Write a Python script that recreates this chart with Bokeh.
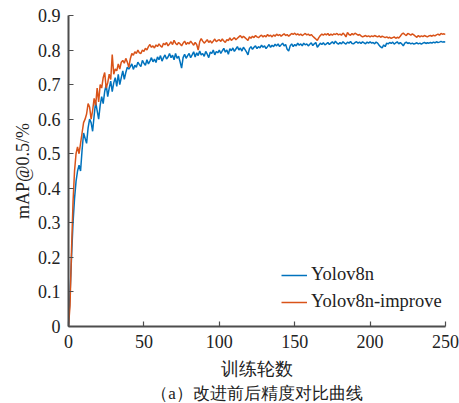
from bokeh.plotting import figure
from bokeh.models import Range1d, FixedTicker, Legend, LegendItem, Title
from bokeh.embed import file_html
from bokeh.resources import INLINE

epochs = list(range(0, 251))

yolov8n = [
    0.0, 0.09, 0.20, 0.30, 0.37, 0.42, 0.45, 0.467, 0.45, 0.51,
    0.56, 0.545, 0.53, 0.575, 0.60, 0.59, 0.565, 0.61, 0.65, 0.625,
    0.60, 0.64, 0.665, 0.645, 0.68, 0.70, 0.665, 0.69, 0.71, 0.68,
    0.705, 0.72, 0.695, 0.73, 0.70, 0.72, 0.74, 0.715, 0.735, 0.75,
    0.745, 0.752, 0.76, 0.744, 0.756, 0.75, 0.765, 0.758, 0.752, 0.77,
    0.762, 0.756, 0.772, 0.76, 0.768, 0.778, 0.766, 0.774, 0.764, 0.78,
    0.772, 0.784, 0.768, 0.778, 0.786, 0.774, 0.78, 0.79, 0.778, 0.785,
    0.772, 0.79, 0.776, 0.782, 0.766, 0.748, 0.778, 0.788, 0.776, 0.784,
    0.79, 0.778, 0.786, 0.795, 0.78, 0.792, 0.784, 0.797, 0.786, 0.79,
    0.782, 0.796, 0.788, 0.778, 0.794, 0.79, 0.8, 0.786, 0.796, 0.792,
    0.8, 0.79, 0.798, 0.805, 0.794, 0.8, 0.788, 0.804, 0.798, 0.806,
    0.796, 0.803, 0.81, 0.8, 0.806, 0.797, 0.808, 0.802, 0.795, 0.786,
    0.804, 0.81, 0.802, 0.808, 0.812, 0.804, 0.81, 0.806, 0.814, 0.808,
    0.812, 0.804, 0.81, 0.816, 0.808, 0.814, 0.81, 0.817, 0.812, 0.818,
    0.81, 0.815, 0.82, 0.812, 0.816, 0.802, 0.797, 0.812, 0.818, 0.81,
    0.816, 0.812, 0.82, 0.814, 0.818, 0.812, 0.82, 0.815, 0.818, 0.812,
    0.817, 0.821, 0.813, 0.818, 0.822, 0.808, 0.814, 0.82, 0.816, 0.821,
    0.815, 0.818, 0.822, 0.816, 0.82, 0.824, 0.818, 0.826, 0.82, 0.817,
    0.822, 0.818, 0.824, 0.82, 0.817, 0.823, 0.82, 0.825, 0.819, 0.818,
    0.822, 0.824, 0.82, 0.823, 0.819, 0.824, 0.821, 0.818, 0.823, 0.82,
    0.824, 0.82, 0.822, 0.818, 0.823, 0.82, 0.814, 0.809, 0.806, 0.815,
    0.81, 0.82, 0.818, 0.822, 0.819, 0.823, 0.817, 0.821, 0.824, 0.818,
    0.822, 0.818, 0.812, 0.82, 0.823, 0.819, 0.821, 0.818, 0.82, 0.817,
    0.819, 0.821, 0.818, 0.82, 0.817, 0.82, 0.822, 0.819, 0.821, 0.82,
    0.822, 0.82, 0.823, 0.821, 0.824, 0.822, 0.823, 0.825, 0.823, 0.824,
    0.823,
]

yolov8n_improve = [
    0.0, 0.06, 0.22, 0.36, 0.45, 0.50, 0.52, 0.50, 0.53, 0.56,
    0.59, 0.60, 0.615, 0.645, 0.635, 0.60, 0.625, 0.66, 0.64, 0.69,
    0.65, 0.70, 0.69, 0.72, 0.735, 0.69, 0.705, 0.73, 0.715, 0.787,
    0.73, 0.745, 0.74, 0.76, 0.745, 0.765, 0.77, 0.762, 0.776, 0.765,
    0.75, 0.775, 0.79, 0.785, 0.795, 0.79, 0.80, 0.792, 0.79, 0.80,
    0.796, 0.805, 0.80, 0.81, 0.816, 0.808, 0.812, 0.806, 0.815, 0.81,
    0.818, 0.812, 0.808, 0.82, 0.815, 0.822, 0.812, 0.818, 0.824, 0.816,
    0.828, 0.82, 0.815, 0.822, 0.818, 0.812, 0.82, 0.826, 0.816, 0.822,
    0.818, 0.826, 0.82, 0.814, 0.822, 0.816, 0.80, 0.824, 0.833, 0.826,
    0.82, 0.825, 0.83, 0.822, 0.827, 0.82, 0.826, 0.832, 0.824, 0.828,
    0.83, 0.825, 0.832, 0.826, 0.822, 0.83, 0.827, 0.835, 0.828, 0.832,
    0.836, 0.83, 0.834, 0.838, 0.842, 0.835, 0.84, 0.836, 0.832, 0.828,
    0.838, 0.834, 0.84, 0.836, 0.842, 0.838, 0.836, 0.84, 0.843, 0.838,
    0.842, 0.838, 0.845, 0.84, 0.843, 0.838, 0.844, 0.84, 0.846, 0.842,
    0.845, 0.84, 0.844, 0.847, 0.842, 0.845, 0.84, 0.844, 0.848, 0.845,
    0.849, 0.844, 0.847, 0.843, 0.846, 0.842, 0.845, 0.848, 0.844, 0.846,
    0.842, 0.845, 0.84, 0.836, 0.832, 0.828, 0.836, 0.842, 0.846, 0.843,
    0.847, 0.844, 0.848, 0.842, 0.846, 0.843, 0.847, 0.845, 0.848, 0.844,
    0.846, 0.843, 0.849, 0.845, 0.838, 0.851, 0.845, 0.843, 0.848, 0.844,
    0.849, 0.846, 0.843, 0.845, 0.841, 0.838, 0.84, 0.842, 0.839, 0.841,
    0.838, 0.841, 0.839, 0.842, 0.84, 0.838, 0.841, 0.837, 0.84, 0.838,
    0.836, 0.838, 0.835, 0.837, 0.834, 0.836, 0.838, 0.834, 0.837, 0.835,
    0.84, 0.846, 0.849, 0.845, 0.842, 0.848, 0.846, 0.843, 0.847, 0.844,
    0.84, 0.837, 0.842, 0.838, 0.841, 0.839, 0.842, 0.84, 0.838, 0.841,
    0.842, 0.84, 0.843, 0.841, 0.844, 0.846, 0.843, 0.848, 0.846, 0.847,
    0.845,
]

x_ticks = [0, 50, 100, 150, 200, 250]
y_ticks = [0, 0.1, 0.2, 0.3, 0.4, 0.5, 0.6, 0.7, 0.8, 0.9]
y_tick_labels = {0: "0", 0.1: "0.1", 0.2: "0.2", 0.3: "0.3", 0.4: "0.4",
                 0.5: "0.5", 0.6: "0.6", 0.7: "0.7", 0.8: "0.8", 0.9: "0.9"}
series_names = ["Yolov8n", "Yolov8n-improve"]
x_label = "训练轮数"
y_label = "mAP@0.5/%"
caption = "（a）改进前后精度对比曲线"

SERIF = "Liberation Serif"
AXIS_COLOR = "#4d4d4d"
TEXT_COLOR = "#222222"

p = figure(width=459, height=403, output_backend="svg", toolbar_location=None,
           x_range=Range1d(0, 250), y_range=Range1d(0, 0.9),
           min_border_left=68, min_border_right=14, min_border_top=15,
           min_border_bottom=76)
p.background_fill_color = "white"
p.border_fill_color = "white"
p.outline_line_color = None
p.grid.visible = False

r1 = p.line(epochs, yolov8n, line_color="#0072BD", line_width=1.5)
r2 = p.line(epochs, yolov8n_improve, line_color="#D95319", line_width=1.5)

for ax in (p.xaxis[0], p.yaxis[0]):
    ax.axis_line_color = AXIS_COLOR
    ax.axis_line_width = 2
    ax.major_tick_line_color = AXIS_COLOR
    ax.major_tick_line_width = 1.2
    ax.major_tick_in = 5
    ax.major_tick_out = 0
    ax.minor_tick_line_color = None
    ax.major_label_text_font = SERIF
    ax.major_label_text_font_size = "18px"
    ax.major_label_text_color = TEXT_COLOR
    ax.axis_label_text_font = SERIF
    ax.axis_label_text_font_style = "normal"
    ax.axis_label_text_color = TEXT_COLOR
    ax.axis_label_text_font_size = "18px"

p.xaxis[0].ticker = FixedTicker(ticks=x_ticks)
p.yaxis[0].ticker = FixedTicker(ticks=y_ticks)
p.yaxis[0].major_label_overrides = y_tick_labels
p.xaxis[0].axis_label = x_label
p.xaxis[0].major_label_standoff = 8
p.xaxis[0].axis_label_standoff = 8
p.yaxis[0].axis_label = y_label
p.yaxis[0].axis_label_standoff = 2
p.yaxis[0].major_label_standoff = 8

legend = Legend(items=[LegendItem(label=series_names[0], renderers=[r1]),
                       LegendItem(label=series_names[1], renderers=[r2])],
                location=(213, 14))
legend.border_line_color = None
legend.background_fill_alpha = 0
legend.label_text_font = SERIF
legend.label_text_font_size = "18.5px"
legend.label_text_color = TEXT_COLOR
legend.glyph_width = 26
legend.glyph_height = 20
legend.label_height = 20
legend.spacing = 6
legend.padding = 2
legend.margin = 0
legend.label_standoff = 4
p.add_layout(legend)

cap = Title(text=caption, align="center", text_font=SERIF, text_font_size="17px",
            text_font_style="normal", text_color=TEXT_COLOR, standoff=1)
p.add_layout(cap, "below")

open("out.html", "w").write(file_html(p, INLINE))
